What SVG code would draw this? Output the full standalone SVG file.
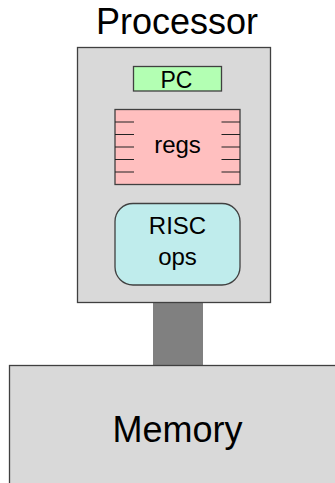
<svg xmlns="http://www.w3.org/2000/svg" width="335" height="483" viewBox="0 0 335 483">
  <style>
    .box { stroke: #404040; stroke-width: 1.3; }
    .lbl { font-family: "Liberation Sans", Arial, sans-serif; fill: #000; text-anchor: middle; }
    .tick { stroke: #222; stroke-width: 1.2; }
  </style>
  <rect width="335" height="483" fill="#fff"/>

  <!-- bus between processor and memory -->
  <g id="connectors">
    <rect x="153" y="302.5" width="50" height="63" fill="#808080"/>
  </g>

  <g id="processor">
    <text class="lbl" x="177" y="34.3" font-size="36">Processor</text>
    <rect class="box" x="77.5" y="47.5" width="193" height="255" fill="#d9d9d9"/>
  </g>

  <g id="pc">
    <rect class="box" x="133.5" y="66.5" width="88" height="24.5" fill="#b3ffb3"/>
    <text class="lbl" x="176.5" y="88" font-size="23">PC</text>
  </g>

  <g id="regs">
    <rect class="box" x="115" y="109.5" width="125" height="75" fill="#ffbfbf"/>
    <path class="tick" d="M115 122H134M115 134.5H134M115 147H134M115 159.5H134M115 172H134
                          M221.5 122H240M221.5 134.5H240M221.5 147H240M221.5 159.5H240M221.5 172H240"/>
    <text class="lbl" x="177.5" y="153.3" font-size="24">regs</text>
  </g>

  <g id="risc-ops">
    <rect class="box" x="115" y="203.5" width="125" height="81.5" rx="18" ry="18" fill="#bfecec"/>
    <text class="lbl" x="177.5" y="234.3" font-size="24">RISC</text>
    <text class="lbl" x="177.5" y="265.3" font-size="24">ops</text>
  </g>

  <g id="memory">
    <rect class="box" x="9.5" y="365.5" width="340" height="140" fill="#d9d9d9"/>
    <text class="lbl" x="177.5" y="441.7" font-size="36">Memory</text>
  </g>
</svg>
